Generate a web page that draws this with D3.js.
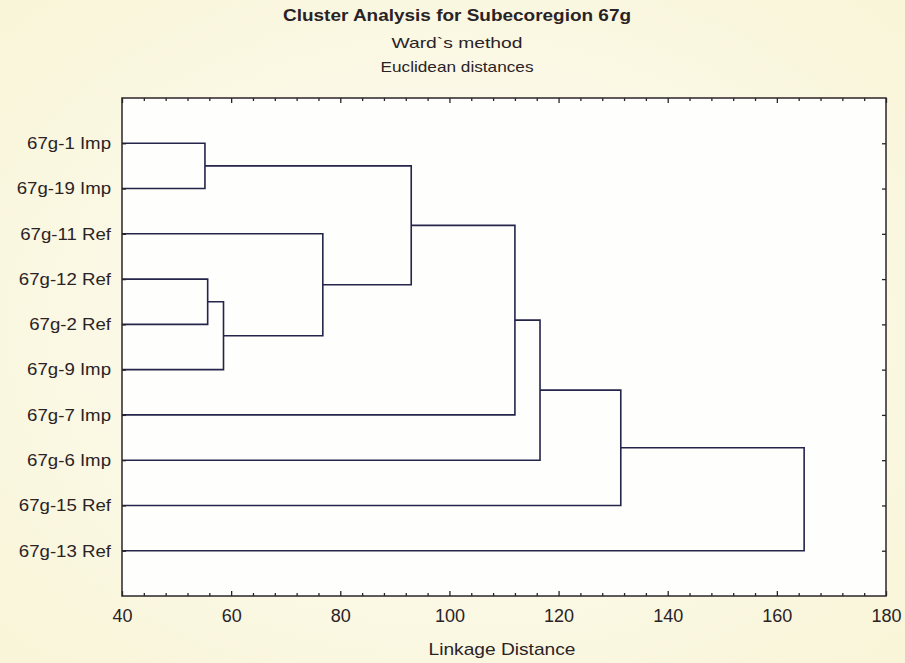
<!DOCTYPE html>
<html>
<head>
<meta charset="utf-8">
<script src="https://cdn.jsdelivr.net/npm/d3@7"></script>
<style>
  body { margin: 0; background: #fbf9e8; }
  svg text { font-family: 'Liberation Sans', Arial, sans-serif; fill: #2a2326; }
</style>
</head>
<body>
<div id="chart"></div>
<script>
const width = 905
const height = 663

// leaves, top to bottom
const leaves = ['67g-1 Imp', '67g-19 Imp', '67g-11 Ref', '67g-12 Ref', '67g-2 Ref',
                '67g-9 Imp', '67g-7 Imp', '67g-6 Imp', '67g-15 Ref', '67g-13 Ref']

// linkage: ids 0-9 are leaves, 10+ are the clusters made below, in order
const linkA = [0, 3, 11, 2, 10, 14, 15, 16, 17]
const linkB = [1, 4, 5, 12, 13, 6, 7, 8, 9]
const linkDist = [55.2, 55.7, 58.6, 76.8, 93.0, 112.0, 116.6, 131.4, 165.0]

const xMajor = [40, 60, 80, 100, 120, 140, 160, 180]

const margin = { top: 98, right: 19, bottom: 67, left: 122 }
const lineColor = '#25244a'

const svg = d3.select('#chart').append('svg')
  .attr('width', width)
  .attr('height', height)

// soft cream page
const grad = svg.append('defs').append('radialGradient')
  .attr('id', 'bg').attr('cx', '50%').attr('cy', '50%').attr('r', '70%')
grad.append('stop').attr('offset', '0%').attr('stop-color', '#fdfcf6')
grad.append('stop').attr('offset', '100%').attr('stop-color', '#f9f5d8')
svg.append('rect').attr('width', width).attr('height', height).attr('fill', 'url(#bg)')

const x = d3.scaleLinear()
  .domain([40, 180])
  .range([margin.left, width - margin.right])

const y = d3.scaleLinear()
  .domain([0, leaves.length + 1])
  .range([margin.top, height - margin.bottom])

// plot area
svg.append('rect')
  .attr('x', x(40)).attr('y', y(0))
  .attr('width', x(180) - x(40)).attr('height', y(leaves.length + 1) - y(0))
  .attr('fill', '#fefefd')

// titles (stretched a little wider, like the original)
const cx = 457
svg.append('text').attr('x', cx).attr('y', 21).attr('text-anchor', 'middle')
  .style('font-size', '16px').style('font-weight', 'bold')
  .attr('textLength', 348).attr('lengthAdjust', 'spacingAndGlyphs')
  .text('Cluster Analysis for Subecoregion 67g')
svg.append('text').attr('x', cx).attr('y', 48).attr('text-anchor', 'middle')
  .style('font-size', '15px')
  .attr('textLength', 131).attr('lengthAdjust', 'spacingAndGlyphs')
  .text('Ward`s method')
svg.append('text').attr('x', cx).attr('y', 72).attr('text-anchor', 'middle')
  .style('font-size', '15px')
  .attr('textLength', 153).attr('lengthAdjust', 'spacingAndGlyphs')
  .text('Euclidean distances')

// node positions
const nodeX = leaves.map(() => x(40))
const nodeY = leaves.map((d, i) => y(i + 1))

const tree = svg.append('g')
  .attr('fill', 'none')
  .attr('stroke', lineColor)
  .attr('stroke-width', 1.6)

linkDist.forEach((d, i) => {
  const a = linkA[i], b = linkB[i]
  const xd = x(d)
  tree.append('path')
    .attr('d', `M${nodeX[a]},${nodeY[a]}H${xd}V${nodeY[b]}H${nodeX[b]}`)
  nodeX.push(xd)
  nodeY.push((nodeY[a] + nodeY[b]) / 2)
})

// axes (ticks inward)
const minor = d3.range(40, 181, 4).filter(v => !xMajor.includes(v))

const gBottom = svg.append('g').attr('transform', `translate(0,${y(leaves.length + 1)})`)
gBottom.call(d3.axisBottom(x).tickValues(xMajor).tickSizeInner(-5).tickSizeOuter(0).tickPadding(13))
gBottom.append('g').call(d3.axisBottom(x).tickValues(minor).tickSizeInner(-3).tickSizeOuter(0).tickFormat(''))

const gTop = svg.append('g').attr('transform', `translate(0,${y(0)})`)
gTop.call(d3.axisTop(x).tickValues(xMajor).tickSizeInner(-5).tickSizeOuter(0).tickFormat(''))
gTop.append('g').call(d3.axisTop(x).tickValues(minor).tickSizeInner(-3).tickSizeOuter(0).tickFormat(''))

const gLeft = svg.append('g').attr('transform', `translate(${x(40)},0)`)
gLeft.call(d3.axisLeft(y).tickValues(d3.range(1, leaves.length + 1))
  .tickSizeInner(-4).tickSizeOuter(0).tickPadding(11)
  .tickFormat(i => leaves[i - 1]))

const gRight = svg.append('g').attr('transform', `translate(${x(180)},0)`)
gRight.call(d3.axisRight(y).tickValues(d3.range(1, leaves.length + 1))
  .tickSizeInner(-4).tickSizeOuter(0).tickFormat(''))

svg.selectAll('.domain').remove()
svg.selectAll('.tick line').attr('stroke', '#2a2326').attr('stroke-width', 1.3)
gBottom.selectAll('text').style('font-size', '18px').attr('fill', '#2a2326')
gLeft.selectAll('text').style('font-size', '16.5px').attr('fill', '#2a2326')
  .attr('transform', 'scale(1.13,1)')
  .attr('x', -11 / 1.13)

// frame
svg.append('rect')
  .attr('x', x(40)).attr('y', y(0))
  .attr('width', x(180) - x(40)).attr('height', y(leaves.length + 1) - y(0))
  .attr('fill', 'none').attr('stroke', '#2b2428').attr('stroke-width', 1.5)

svg.append('text').attr('x', 502).attr('y', 655).attr('text-anchor', 'middle')
  .style('font-size', '17px')
  .attr('textLength', 147).attr('lengthAdjust', 'spacingAndGlyphs')
  .text('Linkage Distance')
</script>
</body>
</html>
